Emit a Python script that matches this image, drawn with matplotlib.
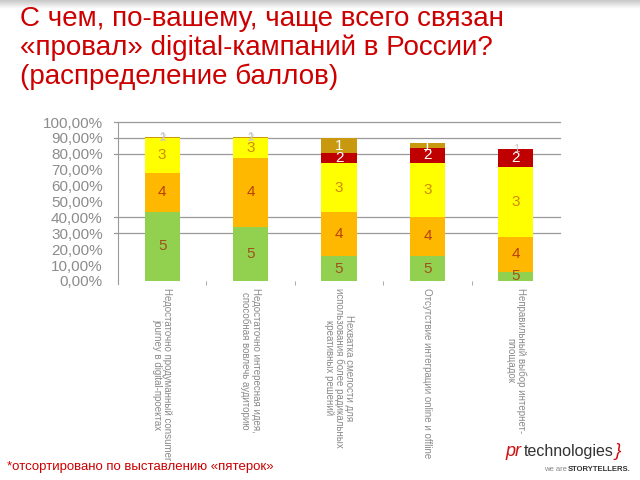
import matplotlib
matplotlib.use("Agg")
import matplotlib.pyplot as plt
import numpy as np
from matplotlib.ticker import FuncFormatter, FixedLocator

plt.rcParams['font.family'] = ['Liberation Sans', 'DejaVu Sans']

categories = [
    "Недостаточно продуманный consumer\njourney в digital-проектах",
    "Недостаточно интересная идея,\nспособная вовлечь аудиторию",
    "Нехватка смелости для\nиспользования более радикальных\nкреативных решений",
    "Отсутствие интеграции online и offline",
    "Неправильный выбор интернет-\nплощадок",
]
# share of each score (5 at the bottom, 1 at the top), %
score_5 = [43.4, 34.1, 15.6, 15.6, 5.7]
score_4 = [24.8, 43.2, 27.8, 24.8, 22.1]
score_3 = [21.7, 12.6, 30.7, 34.1, 43.6]
score_2 = [0.3, 0.3, 6.3, 9.1, 11.8]
score_1 = [0.2, 0.2, 9.5, 3.1, 0.0]
score_names = ["5", "4", "3", "2", "1"]
grid_levels = [0.3, 0.4, 0.8, 0.9, 1.0]

title_lines = [
    "С чем, по-вашему, чаще всего связан",
    "«провал» digital-кампаний в России?",
    "(распределение баллов)",
]
footnote = "*отсортировано по выставлению «пятерок»"

seg_colors = ["#92D050", "#FFB800", "#FFFF00", "#C00000", "#C8980E"]
label_colors = ["#A0521C", "#B8400C", "#D08A00", "white", "white"]

fig = plt.figure(figsize=(6.4, 4.8), dpi=100)

# grey band at the top of the slide
band = fig.add_axes([0, 1 - 9 / 480, 1, 9 / 480])
band.imshow(np.linspace(0.78, 1.0, 20).reshape(-1, 1), cmap="gray", vmin=0, vmax=1,
            aspect="auto", extent=[0, 1, 0, 1])
band.axis("off")

ax = fig.add_axes([118 / 640, 1 - 281 / 480, 442 / 640, 159 / 480])

x = np.arange(len(categories))
series = [score_5, score_4, score_3, score_2, score_1]
bottom = np.zeros(len(categories))
for vals, name, col, lcol in zip(series, score_names, seg_colors, label_colors):
    v = np.array(vals) / 100
    bars = ax.bar(x, v, 0.4, bottom=bottom, color=col, zorder=2)
    texts = ax.bar_label(bars, labels=[name] * len(v), label_type="center",
                         color=lcol, fontsize=11)
    for t, val in zip(texts, v):
        if val < 0.01:
            t.set_color("#c8c8c8")
            t.set_fontsize(8)
    bottom += v

for g in grid_levels:
    ax.axhline(g, xmin=-0.01, color="#9a9a9a", linewidth=0.9, zorder=1, clip_on=False)

ax.set_xlim(-0.5, len(categories) - 0.5)
ax.set_ylim(0, 1)
ax.yaxis.set_major_locator(FixedLocator(np.linspace(0, 1, 11)))
ax.yaxis.set_major_formatter(FuncFormatter(lambda v, p: f"{v * 100:.2f}%".replace(".", ",")))
ax.tick_params(axis="y", length=0, labelsize=11, labelcolor="#8c8c8c", pad=11)

ax.set_xticks(x)
ax.set_xticklabels(categories, rotation=-90, ha="center", va="top",
                   multialignment="center", fontsize=7, color="#8a8a8a",
                   linespacing=1.0)
ax.set_xticks(np.arange(len(categories) - 1) + 0.5, minor=True)
ax.tick_params(axis="x", which="major", length=0, pad=5)
ax.tick_params(axis="x", which="minor", length=3, color="#9a9a9a", direction="out")

for s in ["top", "right", "bottom"]:
    ax.spines[s].set_visible(False)
ax.spines["left"].set_color("#9a9a9a")
ax.spines["left"].set_bounds(-0.02, 1)

title_color = "#CC0000"
for i, line in enumerate(title_lines):
    fig.text(20 / 640, 1 - (26 + 29 * i) / 480, line, fontsize=20,
             color=title_color, va="baseline", ha="left")

fig.text(7 / 640, 1 - 470 / 480, footnote, fontsize=9.5, color="#CC0000",
         va="baseline", ha="left")

# logo
fig.text(505 / 640, 1 - 456 / 480, "pr", fontsize=13, style="italic",
         color="#D01010", va="baseline")
fig.text(524 / 640, 1 - 456 / 480, "technologies", fontsize=11.5,
         color="#333333", va="baseline")
fig.text(615 / 640, 1 - 456 / 480, "}", fontsize=14, style="italic",
         color="#D01010", va="baseline")
fig.text(544 / 640, 1 - 471 / 480, "we are", fontsize=5.5,
         color="#888888", va="baseline")
fig.text(568 / 640, 1 - 471 / 480, "STORYTELLERS.", fontsize=5.5, weight="bold",
         color="#333333", va="baseline")

fig.savefig("out.png", dpi=100)
